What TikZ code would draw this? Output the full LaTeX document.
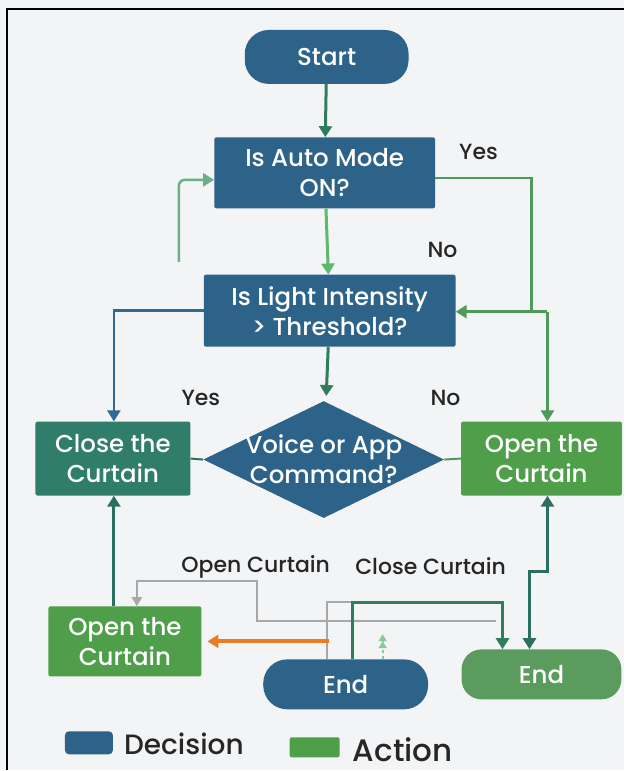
\documentclass[tikz,border=0pt]{standalone}
\usepackage{fontspec}
\setmainfont{Poppins}[UprightFont=* Medium]
\usetikzlibrary{shapes.geometric,arrows.meta,positioning}

\definecolor{bgcol}{HTML}{F3F4F6}
\definecolor{decblue}{HTML}{2D6389}
\definecolor{closegreen}{HTML}{2F7D6A}
\definecolor{opengreen}{HTML}{4E9E4A}
\definecolor{endgreen}{HTML}{5C9B5E}
\definecolor{darkgr}{HTML}{2E7D5B}
\definecolor{lightgr}{HTML}{5DB870}
\definecolor{loopgr}{HTML}{6BAF88}
\definecolor{yesgr}{HTML}{4E9A5A}
\definecolor{linkblue}{HTML}{2F6A94}
\definecolor{tealdk}{HTML}{2B6F63}
\definecolor{orangeln}{HTML}{EE7B1F}
\definecolor{grayln}{HTML}{A8A8A8}
\definecolor{dashgr}{HTML}{8CC79A}

\newcommand{\boxfont}{\fontsize{24.5}{30}\selectfont}
\newcommand{\lblfont}{\fontsize{22}{24}\selectfont}

\tikzset{
  box/.style={rectangle, rounded corners=2pt, text=white, align=center, font=\boxfont, inner sep=2pt},
  pill/.style={rectangle, rounded corners=24pt, text=white, align=center, font=\boxfont},
  lbl/.style={text=black!85, font=\lblfont, inner sep=0pt},
  tip/.style={-{Triangle[length=11pt,width=13pt]}},
  darrow/.style={tip, draw=darkgr, line width=3pt},
  larrow/.style={tip, draw=lightgr, line width=3pt},
}

\begin{document}
\begin{tikzpicture}[x=1pt,y=-1pt]
	%\draw[help lines] (0,0) grid[step=50] (625,771);
	\fill[bgcol] (0,0) rectangle (625,771);
	\draw[line width=1.5pt] (7,771) -- (7,9) -- (625,9);

	\node[pill, fill=decblue, minimum width=164pt, minimum height=54pt] (start) at (327,57) {Start};
	\node[box, fill=decblue, minimum width=221pt, minimum height=71pt] (auto) at (325,173) {Is Auto Mode\\ON?};
	\node[box, fill=decblue, minimum width=252pt, minimum height=72pt] (light) at (330,311) {Is Light Intensity\\> Threshold?};
	\node[box, fill=closegreen, minimum width=155pt, minimum height=74pt] (close) at (113,459) {Close the\\Curtain};
	\node[diamond, fill=decblue, inner sep=0pt, minimum width=241pt, minimum height=117pt,
		label={[text=white, align=center, font=\boxfont]center:Voice or App\\Command?}] (voice) at (324,460) {};
	\node[box, fill=opengreen, minimum width=161pt, minimum height=74pt] (open) at (542,459) {Open the\\Curtain};
	\node[box, fill=opengreen, minimum width=153pt, minimum height=70pt] (open2) at (125,642) {Open the\\Curtain};
	\node[pill, fill=decblue, minimum width=165pt, minimum height=50pt] (end1) at (346,685) {End};
	\node[pill, fill=endgreen, rounded corners=20pt, minimum width=160pt, minimum height=50pt] (end2) at (542,675) {End};

	\node[lbl] (yesauto) at (479,152) {Yes};
	\node[lbl] (noauto) at (443,250) {No};
	\node[lbl] (yeslight) at (201,398) {Yes};
	\node[lbl] (nolight) at (446,398) {No};
	\node[lbl] (opencmd) at (256,567) {Open Curtain};
	\node[lbl] (closecmd) at (431,567) {Close Curtain};

	% main column
	\draw[darrow] (start) -- (auto);
	\draw[larrow] (auto) -- (light);
	\draw[darrow, shorten >=6pt] (light) -- (voice);

	% loop back on the left
	\coordinate (loopS) at (179,262);
	\draw[tip, draw=loopgr, line width=2.5pt, rounded corners=6pt] (loopS) |- ([yshift=-7pt]auto.west);

	% yes branch of auto mode
	\coordinate (yesD) at (532,312);
	\coordinate (yesJ) at (548,312);
	\draw[draw=yesgr, line width=2.5pt] ([yshift=-5pt]auto.east) -| (yesD) -- (yesJ);
	\draw[tip, draw=yesgr, line width=2.5pt] (yesD) -- (light.east |- yesD);
	\draw[tip, draw=yesgr, line width=2.5pt] (yesJ) -- (yesJ |- open.north);

	% light intensity to close
	\draw[tip, draw=linkblue, line width=2.5pt] (light.west) -| ([xshift=1pt]close.north);

	% diamond sides
	\draw[draw=tealdk, line width=2pt] (close.east) -- (voice.west);
	\draw[draw=yesgr, line width=2pt] (voice.east) -- (open.west);

	% lower part
	\draw[tip, draw=tealdk, line width=3pt] ([xshift=1pt]close.south |- open2.north) -- ([xshift=1pt]close.south);
	\coordinate (rj1) at (548,572);
	\coordinate (rj2) at (530,572);
	\draw[{Triangle[length=11pt,width=13pt]}-{Triangle[length=11pt,width=13pt]}, draw=tealdk, line width=3pt]
		(rj1 |- open.south) -- (rj1) -- (rj2) -- (rj2 |- end2.north);

	\coordinate (g1) at (496,622);
	\coordinate (g2) at (257,582);
	\draw[-{Triangle[length=9pt,width=10pt]}, draw=grayln, line width=2pt] (g1) -| (g2) -| ([xshift=12pt]open2.north);
	\coordinate (gtop) at (503,603);
	\draw[draw=grayln, line width=2pt] ([xshift=-19pt]end1.north) |- ([xshift=7pt]end1.north |- gtop);
	\draw[tip, draw=darkgr, line width=3pt] ([xshift=7pt]end1.north) |- (gtop) -- (gtop |- end2.north);

	\coordinate (ostart) at (329,642);
	\draw[tip, draw=orangeln, line width=4pt, shorten >=6pt] (ostart) -- (open2.east);
	\draw[-{Triangle[length=7pt,width=8pt]Triangle[length=7pt,width=8pt]}, draw=dashgr, line width=2pt, dashed]
		([xshift=37pt]end1.north) -- ++(0,-25);

	% legend
	\node[rectangle, rounded corners=4pt, fill=decblue, minimum width=48pt, minimum height=23pt] (decleg) at (89,743.5) {};
	\node[right, inner sep=0pt, font=\fontsize{28}{30}\selectfont, text=black!85] (dectext) at (124,745) {Decision};
	\node[rectangle, rounded corners=2pt, fill=opengreen, minimum width=50pt, minimum height=20pt] (actleg) at (315,748) {};
	\node[right, inner sep=0pt, font=\fontsize{31}{34}\selectfont, text=black!85] (acttext) at (353,750) {Action};
\end{tikzpicture}
\end{document}
